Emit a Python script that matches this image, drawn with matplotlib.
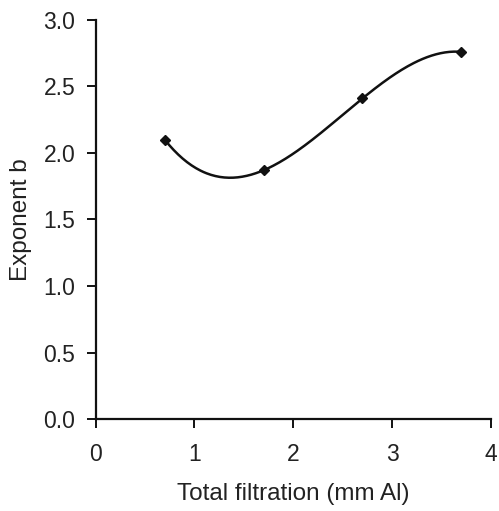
import numpy as np
import matplotlib
matplotlib.use("Agg")
import matplotlib.pyplot as plt

filtration = np.array([0.7, 1.7, 2.7, 3.7])
exponent_b = np.array([2.10, 1.87, 2.41, 2.76])
x_ticks = [0, 1, 2, 3, 4]
y_ticks = [0.0, 0.5, 1.0, 1.5, 2.0, 2.5, 3.0]

plt.rcParams['font.family'] = ['Liberation Sans', 'DejaVu Sans']

fig = plt.figure(figsize=(4.99, 5.11), dpi=100)
ax = fig.add_axes([0.1914, 0.180, 0.7926, 0.781])

# smooth curve through the points (cubic interpolation)
coef = np.polyfit(filtration, exponent_b, 3)
xs = np.linspace(filtration[0], filtration[-1], 200)
ax.plot(xs, np.polyval(coef, xs), color='#111111', linewidth=1.8)
ax.plot(filtration, exponent_b, linestyle='none', marker='D', markersize=5.5,
        color='#111111')

ax.set_xlim(0, 4)
ax.set_ylim(0, 3)
ax.set_xticks(x_ticks)
ax.set_yticks(y_ticks)
ax.set_yticklabels([f"{v:.1f}" for v in y_ticks])
ax.spines['top'].set_visible(False)
ax.spines['right'].set_visible(False)
for s in ['left', 'bottom']:
    ax.spines[s].set_linewidth(1.6)
    ax.spines[s].set_color('#111111')
ax.tick_params(direction='out', length=6.5, width=1.4, labelsize=16.5,
               colors='#111111', labelcolor='#222222')
ax.tick_params(axis='x', pad=11)
ax.tick_params(axis='y', pad=8)
ax.set_xlabel('Total filtration (mm Al)', fontsize=17.5, color='#222222', labelpad=12)
ax.set_ylabel('Exponent b', fontsize=17.5, color='#222222', labelpad=8)

fig.savefig('out.png', dpi=100)
